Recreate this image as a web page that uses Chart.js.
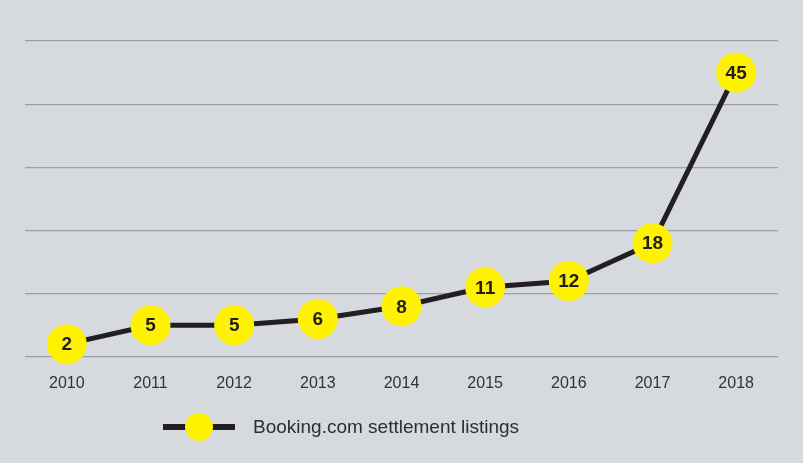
<!DOCTYPE html>
<html>
<head>
<meta charset="utf-8">
<script src="https://cdn.jsdelivr.net/npm/chart.js@4/dist/chart.umd.min.js"></script>
<style>
  html, body { margin: 0; padding: 0; background: #d6d9de; }
  #wrap { position: relative; width: 803px; height: 463px; }
  #chart { position: absolute; left: 0; top: 0; }
  #legend { position: absolute; left: 163px; top: 412px; height: 30px; display: flex; align-items: center;
            font-family: "Liberation Sans", Arial, sans-serif; font-size: 19px; color: #2e2e30; }
  #legend .sym { position: relative; width: 72px; height: 30px; margin-right: 18px; }
  #legend .sym .ln { position: absolute; left: 0; top: 12px; width: 72px; height: 6px; background: #231f20; }
  #legend .sym .dot { position: absolute; left: 22px; top: 1px; width: 28px; height: 28px; border-radius: 50%; background: #fff200; }
</style>
</head>
<body>
<div id="wrap">
  <canvas id="chart" width="803" height="463"></canvas>
  <div id="legend"><div class="sym"><div class="ln"></div><div class="dot"></div></div><span id="legendText"></span></div>
</div>
<script>
const years = ['2010', '2011', '2012', '2013', '2014', '2015', '2016', '2017', '2018'];
const listings = [2, 5, 5, 6, 8, 11, 12, 18, 45];
const seriesName = 'Booking.com settlement listings';

document.getElementById('legendText').textContent = seriesName;

const pointLabels = {
    id: 'pointLabels',
    afterDatasetsDraw(chart) {
        const ctx = chart.ctx;
        const meta = chart.getDatasetMeta(0);
        ctx.save();
        ctx.font = 'bold 19px "Liberation Sans", Arial, sans-serif';
        ctx.fillStyle = '#231f20';
        ctx.textAlign = 'center';
        ctx.textBaseline = 'middle';
        meta.data.forEach((pt, i) => {
            ctx.fillText(String(listings[i]), pt.x, pt.y + 1);
        });
        ctx.restore();
    }
};

new Chart(document.getElementById('chart'), {
    type: 'line',
    data: {
        labels: years,
        datasets: [{
            label: seriesName,
            data: listings,
            borderColor: '#231f20',
            borderWidth: 5,
            backgroundColor: '#fff200',
            pointBackgroundColor: '#fff200',
            pointBorderWidth: 0,
            pointRadius: 20,
            pointHoverRadius: 20,
            tension: 0,
            clip: false
        }]
    },
    options: {
        responsive: false,
        animation: false,
        layout: { padding: { left: 25, right: 25, top: 41, bottom: 53 } },
        plugins: {
            legend: { display: false },
            tooltip: { enabled: false }
        },
        scales: {
            x: {
                offset: true,
                grid: { display: false, drawTicks: false },
                border: { display: false },
                ticks: {
                    padding: 17,
                    color: '#333335',
                    font: { family: '"Liberation Sans", Arial, sans-serif', size: 16 }
                }
            },
            y: {
                min: 0,
                max: 50,
                ticks: { stepSize: 10, display: false },
                grid: { color: '#9ca0ab', lineWidth: 1.2, drawTicks: false },
                border: { display: false }
            }
        }
    },
    plugins: [pointLabels]
});
</script>
</body>
</html>
